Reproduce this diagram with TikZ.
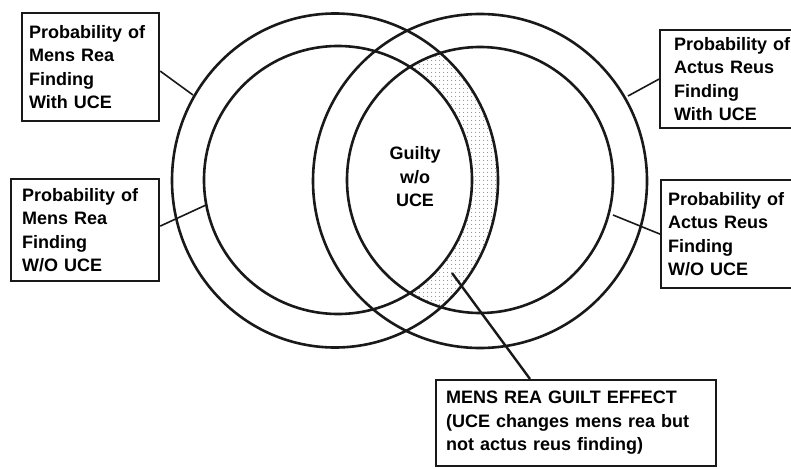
\documentclass[tikz,border=0pt]{standalone}
\usepackage{fontspec}
\setmainfont{Liberation Sans}
\usetikzlibrary{patterns.meta}
\begin{document}
\begin{tikzpicture}[x=1pt,y=-1pt,
  ink/.style={draw=black!90},
  ring/.style={ink, line width=2.6pt},
  labelbox/.style={ink, line width=2.2pt, anchor=north west, align=left,
    inner ysep=0pt, font=\fontsize{18}{23.5}\selectfont\bfseries},
  lead/.style={ink, line width=1.6pt},
]
\useasboundingbox (0,0) rectangle (791,468);
\clip (0,0) rectangle (791,468);

% dotted crescent: mens rea changes, actus reus unchanged
\begin{scope}
  \clip (480,180) circle [radius=133];
  \clip (335,180.5) ellipse [x radius=163, y radius=167];
  \fill[pattern={Dots[distance=4pt, radius=0.55pt]}, pattern color=black!70, even odd rule]
    (335,180.5) ellipse [x radius=163, y radius=167]
    (338,180) circle [radius=134];
\end{scope}

% mens rea rings (left) and actus reus rings (right)
\draw[ring] (335,180.5) ellipse [x radius=163, y radius=167];
\draw[ring] (338,180) circle [radius=134];
\draw[ring] (480,181) circle [radius=167];
\draw[ring] (480,180) circle [radius=133];

% label boxes
\node[labelbox, inner xsep=7pt, text width=123pt, minimum height=108pt] (b1) at (21,12)
  {Probability of\\Mens Rea\\Finding\\With UCE};
\node[labelbox, inner xsep=11pt, text width=126pt, minimum height=102pt] (b2) at (10,178)
  {Probability of\\Mens Rea\\Finding\\W/O UCE};
\node[labelbox, inner xsep=14pt, text width=118pt, minimum height=98pt] (b3) at (659,29)
  {Probability of\\Actus Reus\\Finding\\With UCE};
\node[labelbox, inner xsep=7pt, text width=131pt, minimum height=108pt] (b4) at (660,179)
  {Probability of\\Actus Reus\\Finding\\W/O UCE};
\node[labelbox, inner xsep=10pt, text width=260pt, minimum height=86pt] (b5) at (435,379)
  {MENS REA GUILT EFFECT\\(UCE changes mens rea but\\not actus reus finding)};

% centre label
\node[align=center, inner sep=0pt, font=\fontsize{18}{23.5}\selectfont\bfseries] (g) at (415,177)
  {Guilty\\w/o\\UCE};

% leader lines
\coordinate (p1) at (193,95);
\coordinate (p2) at (206,205);
\coordinate (p3) at (628,96);
\coordinate (p4) at (613,215);
\coordinate (p5) at (452,273);
\draw[lead] ([yshift=-4pt]b1.east) -- (p1);
\draw[lead] ([yshift=4pt]b2.east) -- (p2);
\draw[lead] (b3.west) -- (p3);
\draw[lead] (b4.west) -- (p4);
\draw[lead, line width=2.4pt] ([xshift=95pt]b5.north west) -- (p5);
\end{tikzpicture}
\end{document}
